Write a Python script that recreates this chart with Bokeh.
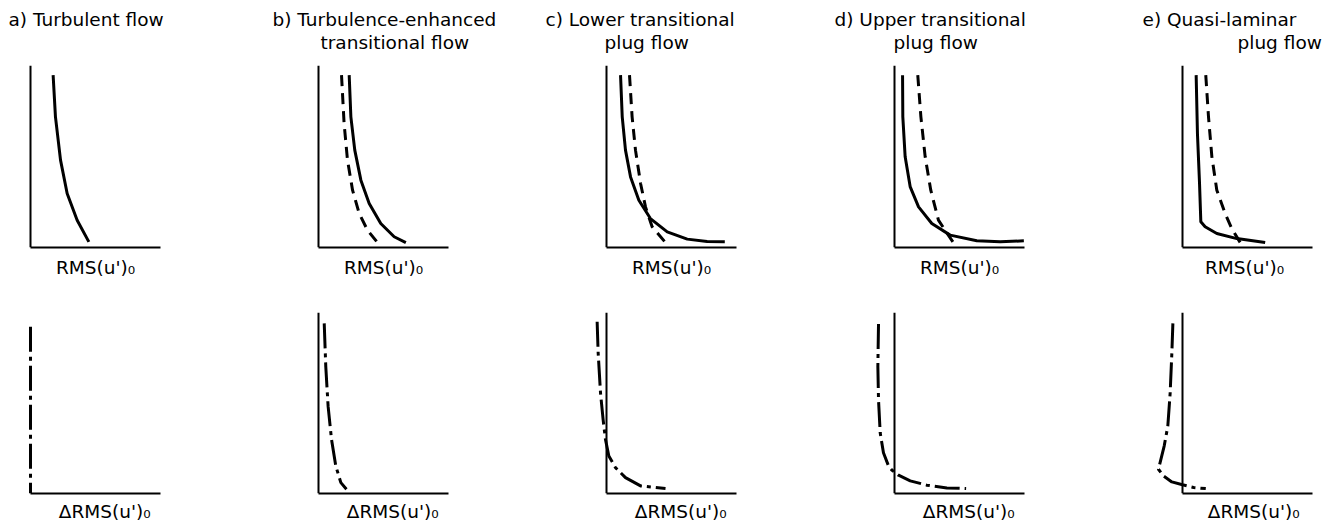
from bokeh.plotting import figure
from bokeh.layouts import row, column
from bokeh.models import Range1d, Label, FixedTicker
from bokeh.embed import file_html
from bokeh.resources import INLINE

FONT = "DejaVu Sans"

# ---------------- data (axes units: 0..1 on each axis) ----------------
top_label = "RMS(u')\u2080"
bottom_label = "\u2003\u0394RMS(u')\u2080"

titles = [
    ["a) Turbulent flow"],
    ["b) Turbulence-enhanced", "transitional flow"],
    ["c) Lower transitional", "plug flow"],
    ["d) Upper transitional", "plug flow"],
    ["e) Quasi-laminar", "plug flow"],
]

a_solid_x = [0.174, 0.192, 0.231, 0.282, 0.359, 0.449]
a_solid_y = [0.947, 0.718, 0.480, 0.297, 0.150, 0.031]
a_dash_x = []
a_dash_y = []
a_delta_x = [0.0, 0.0]
a_delta_y = [0.921, 0.0]

b_solid_x = [0.236, 0.249, 0.279, 0.326, 0.390, 0.479, 0.582, 0.672]
b_solid_y = [0.947, 0.718, 0.535, 0.370, 0.242, 0.132, 0.059, 0.027]
b_dash_x = [0.177, 0.197, 0.223, 0.262, 0.313, 0.377, 0.454]
b_dash_y = [0.947, 0.681, 0.480, 0.315, 0.187, 0.095, 0.027]
b_delta_x = [0.044, 0.056, 0.074, 0.100, 0.133, 0.172, 0.215]
b_delta_y = [0.940, 0.701, 0.481, 0.299, 0.152, 0.060, 0.024]

c_solid_x = [0.108, 0.121, 0.146, 0.185, 0.249, 0.338, 0.467, 0.621, 0.774, 0.910]
c_solid_y = [0.947, 0.718, 0.535, 0.388, 0.260, 0.159, 0.086, 0.046, 0.033, 0.031]
c_dash_x = [0.177, 0.197, 0.223, 0.262, 0.300, 0.351, 0.454]
c_dash_y = [0.947, 0.718, 0.535, 0.352, 0.223, 0.114, 0.027]
c_delta_x = [-0.072, -0.064, -0.046, -0.026, -0.008, 0.018, 0.069, 0.146, 0.262, 0.454]
c_delta_y = [0.949, 0.775, 0.555, 0.408, 0.299, 0.207, 0.143, 0.088, 0.042, 0.027]

d_solid_x = [0.062, 0.064, 0.082, 0.121, 0.185, 0.287, 0.428, 0.633, 0.813, 0.995]
d_solid_y = [0.947, 0.718, 0.498, 0.333, 0.223, 0.132, 0.068, 0.037, 0.031, 0.037]
d_dash_x = [0.179, 0.203, 0.236, 0.279, 0.338, 0.449]
d_dash_y = [0.947, 0.718, 0.498, 0.315, 0.150, 0.031]
d_delta_x = [-0.123, -0.128, -0.123, -0.110, -0.085, -0.046, -0.021, 0.031, 0.121, 0.249, 0.403, 0.551]
d_delta_y = [0.936, 0.701, 0.518, 0.335, 0.225, 0.152, 0.130, 0.101, 0.070, 0.046, 0.031, 0.027]

e_solid_x = [0.105, 0.115, 0.131, 0.141, 0.174, 0.264, 0.418, 0.636]
e_solid_y = [0.947, 0.626, 0.352, 0.141, 0.114, 0.077, 0.049, 0.027]
e_dash_x = [0.179, 0.200, 0.226, 0.264, 0.328, 0.379, 0.444]
e_dash_y = [0.947, 0.718, 0.498, 0.315, 0.187, 0.104, 0.027]
e_delta_x = [-0.074, -0.082, -0.095, -0.113, -0.141, -0.185, -0.146, -0.082, 0.0, 0.085, 0.179]
e_delta_y = [0.940, 0.775, 0.555, 0.372, 0.262, 0.134, 0.097, 0.064, 0.048, 0.033, 0.027]

solids = [(a_solid_x, a_solid_y), (b_solid_x, b_solid_y), (c_solid_x, c_solid_y),
          (d_solid_x, d_solid_y), (e_solid_x, e_solid_y)]
dashes = [(a_dash_x, a_dash_y), (b_dash_x, b_dash_y), (c_dash_x, c_dash_y),
          (d_dash_x, d_dash_y), (e_dash_x, e_dash_y)]
deltas = [(a_delta_x, a_delta_y), (b_delta_x, b_delta_y), (c_delta_x, c_delta_y),
          (d_delta_x, d_delta_y), (e_delta_x, e_delta_y)]

# ---------------- layout (pixels) ----------------
AX_W = 130          # x-axis length in px
AX_H = 182          # y-axis length in px
axis_page_x = [30, 318, 606, 894, 1182]
ext_left = [12, 30, 30, 30, 26]     # frame extension left of the y-axis
ext_right = [12, 30, 30, 30, 20]    # frame extension right of the x-axis end
border_left = [18, 10, 10, 10, 10]
fig_w = [278, 288, 288, 292, 186]
PAGE_W = sum(fig_w)

TITLE_H = 65
TOP_H, TOP_MB = 233, 51
BOT_H, BOT_MT, BOT_MB = 226, 14, 30
LABEL_SIZE = "18.5px"
TITLE_SIZE = "18.5px"

# (left x, vertical middle y) of every title line, page pixels
title_pos = [
    [(8, 19)],
    [(272, 19), (320, 42)],
    [(545, 19), (604, 42)],
    [(834, 19), (893, 42)],
    [(1142, 19), (1237, 42)],
]


def style_axes(p, label, standoff, show_y=True):
    for ax in (p.xaxis[0], p.yaxis[0]):
        ax.ticker = FixedTicker(ticks=[])
        ax.major_tick_out = 0
        ax.major_tick_in = 0
        ax.minor_tick_out = 0
        ax.minor_tick_in = 0
        ax.major_label_standoff = 0
        ax.axis_line_width = 2
        ax.axis_line_color = "black"
        ax.bounds = (0, 1)
    p.yaxis[0].fixed_location = 0
    if not show_y:
        p.yaxis[0].axis_line_color = None
    xa = p.xaxis[0]
    xa.axis_label = label
    xa.axis_label_text_font = FONT
    xa.axis_label_text_font_size = LABEL_SIZE
    xa.axis_label_text_font_style = "normal"
    xa.axis_label_text_color = "black"
    xa.axis_label_standoff = standoff


def clean(p):
    p.grid.visible = False
    p.outline_line_color = None
    p.background_fill_color = "white"
    p.border_fill_color = "white"


def make_fig(i, height, mt, mb):
    L, R = ext_left[i], ext_right[i]
    mr = fig_w[i] - border_left[i] - AX_W - L - R
    p = figure(width=fig_w[i], height=height,
               x_range=Range1d(-L / AX_W, 1 + R / AX_W), y_range=Range1d(0, 1),
               output_backend="svg", toolbar_location=None,
               min_border_left=border_left[i], min_border_right=mr,
               min_border_top=mt, min_border_bottom=mb)
    clean(p)
    return p


# title strip (page pixel coordinates)
pt_title = figure(width=PAGE_W, height=TITLE_H,
                  x_range=Range1d(0, PAGE_W), y_range=Range1d(TITLE_H, 0),
                  output_backend="svg", toolbar_location=None,
                  min_border_left=0, min_border_right=0,
                  min_border_top=0, min_border_bottom=0)
clean(pt_title)
pt_title.axis.visible = False
for lines, poss in zip(titles, title_pos):
    for text, (px, py) in zip(lines, poss):
        pt_title.add_layout(Label(x=px, y=py, text=text, text_font=FONT,
                                  text_font_size=TITLE_SIZE, text_color="black",
                                  text_align="left", text_baseline="middle"))

top_figs, bot_figs = [], []
for i in range(5):
    pt = make_fig(i, TOP_H, 0, TOP_MB)
    style_axes(pt, top_label, 9)
    sx, sy = solids[i]
    pt.line(sx, sy, line_width=3, line_color="black")
    dx, dy = dashes[i]
    if dx:
        pt.line(dx, dy, line_width=3, line_color="black", line_dash="11 7")
    top_figs.append(pt)

    pb = make_fig(i, BOT_H, BOT_MT, BOT_MB)
    style_axes(pb, bottom_label, 7, show_y=(i != 0))
    ex, ey = deltas[i]
    pb.line(ex, ey, line_width=3, line_color="black", line_dash="25 5 4 5")
    bot_figs.append(pb)

layout = column(pt_title, row(*top_figs), row(*bot_figs))

open("out.html", "w").write(file_html(layout, INLINE))
